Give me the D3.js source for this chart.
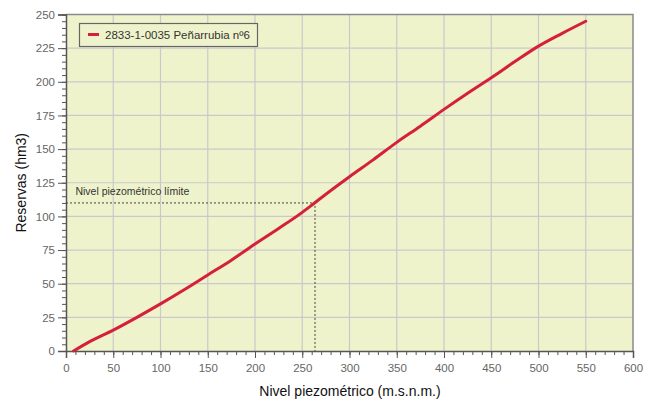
<!DOCTYPE html>
<html>
<head>
<meta charset="utf-8">
<script src="https://cdn.jsdelivr.net/npm/d3@7/dist/d3.min.js"></script>
<style>
  html, body { margin: 0; padding: 0; background: #fff; }
  svg { display: block; font-family: "Liberation Sans", Arial, sans-serif; }
</style>
</head>
<body>
<svg id="chart" width="655" height="401"></svg>
<script>
// Curva de reservas frente a nivel piezométrico
const nivel    = [8, 25, 50, 75, 100, 125, 150, 175, 200, 225, 250, 263, 275, 300, 325, 350, 375, 400, 425, 450, 475, 500, 525, 550];
const reservas = [0, 7, 15.5, 25, 35, 45.5, 56.5, 67.5, 79.5, 91, 103, 110, 116.5, 129.5, 142, 155, 167, 179.5, 191.5, 203, 215, 226.5, 236, 245];
const serieNombre = "2833-1-0035 Peñarrubia nº6";
const limiteNivel = 263.5;
const limiteReserva = 110;
const xTicks = [0, 50, 100, 150, 200, 250, 300, 350, 400, 450, 500, 550, 600];
const yTicks = [0, 25, 50, 75, 100, 125, 150, 175, 200, 225, 250];

const svg = d3.select("#chart");
const m = { left: 66, right: 633, top: 14.5, bottom: 351 };

const x = d3.scaleLinear().domain([0, 600]).range([m.left, m.right]);
const y = d3.scaleLinear().domain([0, 250]).range([m.bottom, m.top]);

// plot background
svg.append("rect")
  .attr("x", m.left).attr("y", m.top)
  .attr("width", m.right - m.left).attr("height", m.bottom - m.top)
  .attr("fill", "#eff3cb");

// grid
const grid = svg.append("g").attr("stroke", "#c9c9cc").attr("stroke-width", 1.2);
xTicks.slice(1, -1).forEach(v => {
  grid.append("line").attr("x1", x(v)).attr("x2", x(v)).attr("y1", m.top).attr("y2", m.bottom);
});
yTicks.slice(1, -1).forEach(v => {
  grid.append("line").attr("x1", m.left).attr("x2", m.right).attr("y1", y(v)).attr("y2", y(v));
});

// frame (top and right)
svg.append("path")
  .attr("d", `M${m.left},${m.top}H${m.right}V${m.bottom}`)
  .attr("fill", "none").attr("stroke", "#8a8a8a").attr("stroke-width", 1.5);

// x axis
svg.append("g").attr("transform", `translate(0,${m.bottom})`)
  .call(d3.axisBottom(x).tickValues(xTicks).tickSize(7).tickPadding(6).tickFormat(d3.format("d")));
svg.append("g").attr("transform", `translate(0,${m.bottom})`)
  .call(d3.axisBottom(x).tickValues(d3.range(0, 601, 10)).tickSize(4).tickFormat(""))
  .call(g => g.select(".domain").remove());

// y axis
svg.append("g").attr("transform", `translate(${m.left},0)`)
  .call(d3.axisLeft(y).tickValues(yTicks).tickSize(8).tickPadding(3).tickFormat(d3.format("d")));
svg.append("g").attr("transform", `translate(${m.left},0)`)
  .call(d3.axisLeft(y).tickValues(d3.range(0, 251, 5)).tickSize(4).tickFormat(""))
  .call(g => g.select(".domain").remove());

svg.selectAll(".domain").attr("stroke", "#555").attr("stroke-width", 1.5);
svg.selectAll(".tick line").attr("stroke", "#555");
svg.selectAll(".tick text").attr("fill", "#666").style("font-size", "11.5px");

// axis titles
svg.append("text")
  .attr("x", 350).attr("y", 396)
  .attr("text-anchor", "middle")
  .attr("font-size", 14).attr("fill", "#111")
  .text("Nivel piezométrico (m.s.n.m.)");
svg.append("text")
  .attr("transform", `translate(26,${(m.top + m.bottom) / 2}) rotate(-90)`)
  .attr("text-anchor", "middle")
  .attr("font-size", 14).attr("fill", "#111")
  .text("Reservas (hm3)");

// limit guide lines
svg.append("path")
  .attr("d", `M${m.left},${y(limiteReserva)}H${x(limiteNivel)}V${m.bottom}`)
  .attr("fill", "none").attr("stroke", "#444").attr("stroke-width", 1)
  .attr("stroke-dasharray", "2,2");
svg.append("text")
  .attr("x", x(10)).attr("y", y(limiteReserva) - 8)
  .attr("font-size", 10.5).attr("fill", "#333")
  .text("Nivel piezométrico límite");

// series line
const pts = nivel.map((v, i) => [v, reservas[i]]);
svg.append("path")
  .datum(pts)
  .attr("fill", "none").attr("stroke", "#d5203a").attr("stroke-width", 3)
  .attr("stroke-linecap", "round")
  .attr("d", d3.line().x(d => x(d[0])).y(d => y(d[1])).curve(d3.curveMonotoneX));

// legend
const lg = svg.append("g");
lg.append("rect")
  .attr("x", 79.5).attr("y", 23.5).attr("width", 178).attr("height", 23)
  .attr("fill", "#eff3cb").attr("stroke", "#666").attr("stroke-width", 1.2);
lg.append("line")
  .attr("x1", 88).attr("x2", 99).attr("y1", 34.5).attr("y2", 34.5)
  .attr("stroke", "#d5203a").attr("stroke-width", 3);
lg.append("text")
  .attr("x", 105).attr("y", 39)
  .attr("font-size", 11.5).attr("fill", "#333")
  .text(serieNombre);
</script>
</body>
</html>
